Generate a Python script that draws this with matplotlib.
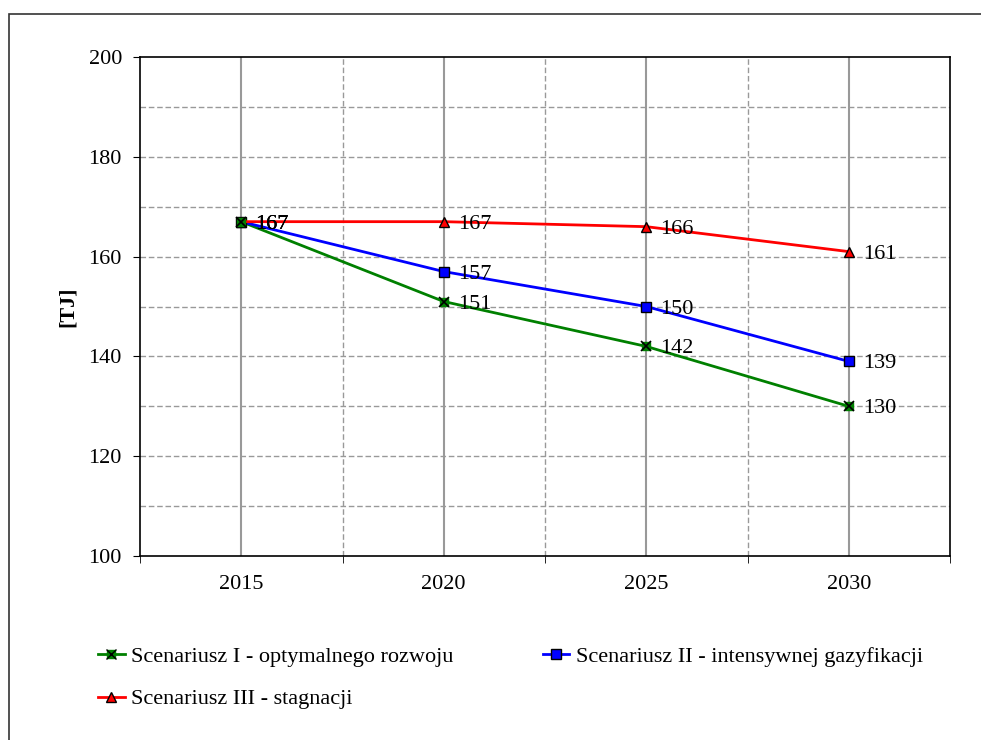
import numpy as np
import matplotlib.pyplot as plt
from matplotlib.patches import Rectangle
from matplotlib.lines import Line2D

plt.rcParams['font.family'] = ['Liberation Serif', 'DejaVu Serif']

# Dane
lata = ['2015', '2020', '2025', '2030']
scen_1 = [167, 151, 142, 130]
scen_2 = [167, 157, 150, 139]
scen_3 = [167, 167, 166, 161]
nazwy = ['Scenariusz I - optymalnego rozwoju',
         'Scenariusz II - intensywnej gazyfikacji',
         'Scenariusz III - stagnacji']

fig = plt.figure(figsize=(9.81, 7.4), dpi=100)
ax = fig.add_axes([140 / 981, 1 - 556 / 740, 810 / 981, 499 / 740])

# ramka całej figury
fig.patches.append(Rectangle((9 / 981, -0.1), 1.1, 1 - 14 / 740 + 0.1,
                             transform=fig.transFigure, fill=False,
                             edgecolor='#333333', linewidth=1.2))

x = np.arange(len(lata))

# siatka
for yy in range(110, 200, 10):
    ax.axhline(yy, color='#999999', linestyle=(0, (4, 2)), linewidth=1, zorder=1)
for xx in x:
    ax.axvline(xx, color='#999999', linestyle='-', linewidth=1.5, zorder=1)
for xx in x[:-1] + 0.5:
    ax.axvline(xx, color='#999999', linestyle=(0, (4, 2)), linewidth=1, zorder=1)

# serie
ax.plot(x, scen_1, color='#008000', linewidth=2, zorder=3)
ax.plot(x, scen_1, linestyle='none', marker='s', markersize=6,
        color='#008000', zorder=4)
ax.plot(x, scen_1, linestyle='none', marker='x', markersize=7,
        color='black', markeredgewidth=1.2, zorder=5)
ax.plot(x, scen_2, color='#0000FF', linewidth=2, marker='s', markersize=7.5,
        markerfacecolor='#0000FF', markeredgecolor='black', zorder=3)
ax.plot(x, scen_3, color='#FF0000', linewidth=2, marker='^', markersize=7.5,
        markerfacecolor='#FF0000', markeredgecolor='black', zorder=3)

# etykiety wartości
for seria in [scen_1, scen_2, scen_3]:
    for xi, v in zip(x, seria):
        ax.text(xi + 0.07, v, str(v), fontsize=16, va='center_baseline', ha='left', zorder=6)

ax.set_xlim(-0.5, 3.5)
ax.set_ylim(100, 200)
ax.set_xticks(x)
ax.set_xticklabels(lata)
ax.set_xticks(np.arange(-0.5, 3.6, 1), minor=True)
ax.tick_params(axis='x', which='major', length=0, pad=14, labelsize=16)
ax.tick_params(axis='x', which='minor', length=5, direction='out')
ax.set_yticks(range(100, 201, 20))
ax.tick_params(axis='y', which='major', length=5, direction='out', labelsize=16, pad=8)
ax.set_ylabel('[TJ]', fontsize=16, fontweight='bold', labelpad=8)
for s in ax.spines.values():
    s.set_color('black')
    s.set_linewidth(1.2)

# legenda (kolejność wierszami: I, II / III)
h1 = (Line2D([], [], color='#008000', linewidth=2, marker='s', markersize=6),
      Line2D([], [], linestyle='none', marker='x', color='black', markersize=7))
h2 = Line2D([], [], color='#0000FF', linewidth=2, marker='s', markersize=7.5,
            markerfacecolor='#0000FF', markeredgecolor='black')
h3 = Line2D([], [], color='#FF0000', linewidth=2, marker='^', markersize=7.5,
            markerfacecolor='#FF0000', markeredgecolor='black')
fig.legend([h1, h3, h2], [nazwy[0], nazwy[2], nazwy[1]], loc='upper left',
           bbox_to_anchor=(78 / 981, 1 - 626 / 740),
           ncol=2, frameon=False, fontsize=16, handlelength=1.2, handletextpad=0.3,
           columnspacing=4.0, labelspacing=1.0)

plt.savefig('out.png', dpi=100)
